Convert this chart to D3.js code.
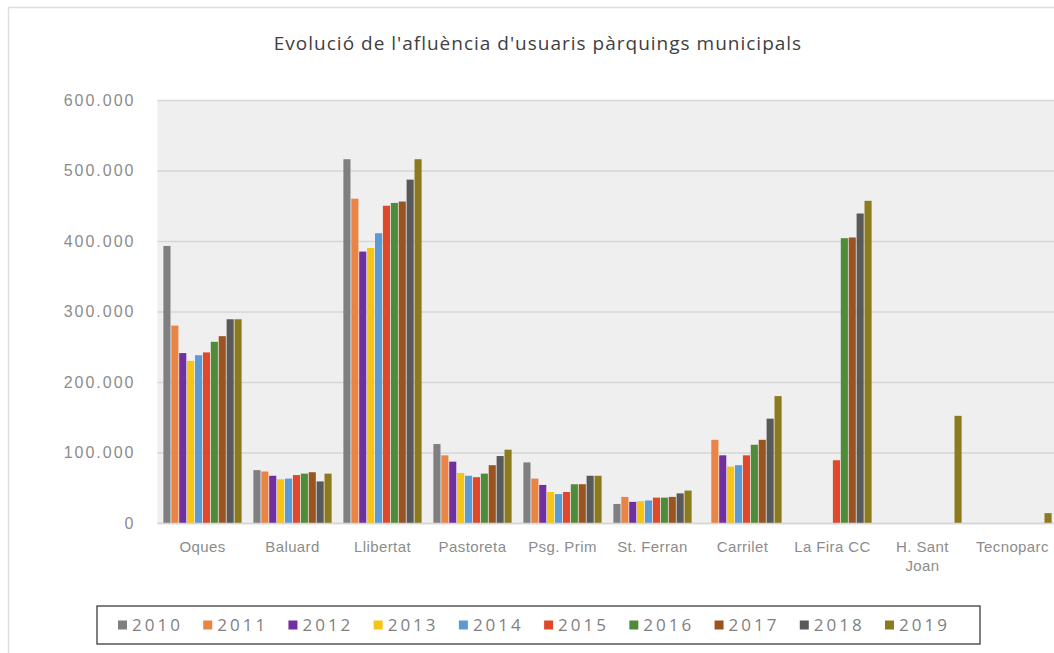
<!DOCTYPE html>
<html>
<head>
<meta charset="utf-8">
<script src="https://cdn.jsdelivr.net/npm/d3@7"></script>
<style>
  body { margin: 0; background: #fff; }
  svg { display: block; font-family: "Open Sans", sans-serif; }
  .tick text { fill: #8c8c8c; font-size: 16px; letter-spacing: 2px; }
  .x.axis .tick text { font-size: 15px; letter-spacing: 0.4px; }
</style>
</head>
<body>
<div id="chart"></div>
<script>

var categories = ["Oques", "Baluard", "Llibertat", "Pastoreta", "Psg. Prim", "St. Ferran", "Carrilet", "La Fira CC", "H. Sant Joan", "Tecnoparc"];
var years = ["2010", "2011", "2012", "2013", "2014", "2015", "2016", "2017", "2018", "2019"];

var v2010 = [393000, 75000, 516000, 112000, 86000, 27000, 0, 0, 0, 0];
var v2011 = [280000, 73000, 460000, 96000, 63000, 37000, 118000, 0, 0, 0];
var v2012 = [241000, 67000, 385000, 87000, 54000, 30000, 96000, 0, 0, 0];
var v2013 = [230000, 62000, 390000, 71000, 44000, 31000, 80000, 0, 0, 0];
var v2014 = [238000, 63000, 411000, 67000, 41000, 32000, 82000, 0, 0, 0];
var v2015 = [242000, 68000, 450000, 65000, 44000, 36000, 96000, 89000, 0, 0];
var v2016 = [257000, 70000, 454000, 70000, 55000, 36000, 111000, 404000, 0, 0];
var v2017 = [265000, 72000, 456000, 82000, 55000, 37000, 118000, 405000, 0, 0];
var v2018 = [289000, 59000, 487000, 95000, 67000, 42000, 148000, 439000, 0, 0];
var v2019 = [289000, 70000, 516000, 104000, 67000, 46000, 180000, 457000, 152000, 14000];

var yTicks = [0, 100000, 200000, 300000, 400000, 500000, 600000];

var colors = ["#7f7f7f", "#ea8445", "#7030a0", "#f6c416", "#5b9bd5", "#e0482c", "#4f8c3a", "#9a5420", "#595959", "#8c7a1e"];

var series = [v2010, v2011, v2012, v2013, v2014, v2015, v2016, v2017, v2018, v2019];

var width = 1054;
var height = 653;
var margin = {top: 100, right: -3.5, bottom: 130, left: 157.5};

var svg = d3.select("#chart")
      .append("svg")
        .attr("width", width)
        .attr("height", height);

// chart frame
svg.append("rect")
    .attr("x", 8.5)
    .attr("y", 7.5)
    .attr("width", width + 20)
    .attr("height", height + 20)
    .attr("fill", "#fff")
    .attr("stroke", "#dedede")
    .attr("stroke-width", 1.5);

var innerW = width - margin.left - margin.right;
var innerH = height - margin.top - margin.bottom;

var g = svg.append("g").attr("transform", "translate(" + margin.left + "," + margin.top + ")");

var x0 = d3.scaleBand()
    .domain(categories)
    .range([0, innerW])
    .paddingInner(0.122)
    .paddingOuter(0.061);

var x1 = d3.scaleBand()
    .domain(years)
    .range([0, x0.bandwidth()]);

var y = d3.scaleLinear()
    .domain([0, 600000])
    .range([innerH, 0]);

var loc = d3.formatLocale({decimal: ",", thousands: ".", grouping: [3], currency: ["", "€"]});
var fmt = loc.format(",");

// plot background
g.append("rect")
    .attr("width", innerW)
    .attr("height", innerH)
    .attr("fill", "#efefef");

// gridlines
g.append("g")
    .attr("class", "grid")
    .call(d3.axisLeft(y)
      .tickValues(yTicks)
      .tickSize(-innerW)
      .tickFormat(""))
    .call(function(s) {
      s.select(".domain").remove();
      s.selectAll("line").attr("stroke", "#d6d6d6").attr("stroke-width", 1.5);
    });

// bars
var rows = categories.map(function(c, i) {
  return years.map(function(yr, j) { return {cat: c, year: yr, value: series[j][i], idx: j}; });
});

g.selectAll(".group")
    .data(rows)
  .enter().append("g")
    .attr("class", "group")
    .attr("transform", function(d, i) { return "translate(" + x0(categories[i]) + ",0)"; })
  .selectAll("rect")
    .data(function(d) { return d.filter(function(b) { return b.value > 0; }); })
  .enter().append("rect")
    .attr("x", function(d) { return x1(d.year) + 0.4; })
    .attr("width", x1.bandwidth() - 0.8)
    .attr("y", function(d) { return y(d.value); })
    .attr("height", function(d) { return innerH - y(d.value); })
    .attr("fill", function(d) { return colors[d.idx]; });

// y axis labels
g.append("g")
    .attr("class", "y axis")
    .attr("transform", "translate(-19,0)")
    .call(d3.axisLeft(y)
      .tickValues(yTicks)
      .tickSize(0)
      .tickFormat(fmt))
    .call(function(s) { s.select(".domain").remove(); });

// x axis labels, wrapped like the original
var xAxis = g.append("g")
    .attr("class", "x axis")
    .attr("transform", "translate(0," + innerH + ")")
    .call(d3.axisBottom(x0).tickSize(0).tickPadding(18))
    .call(function(s) {
      s.select(".domain").attr("stroke", "#d6d6d6").attr("stroke-width", 1.5);
      s.selectAll(".tick text").each(wrap);
    });

function wrap() {
  var text = d3.select(this);
  var words = text.text().split(" ");
  var maxW = x0.step() - 2;
  text.text(null);
  var line = [];
  var tspan = text.append("tspan").attr("x", 0).attr("dy", "0.71em");
  words.forEach(function(w) {
    line.push(w);
    tspan.text(line.join(" "));
    if (tspan.node().getComputedTextLength() > maxW && line.length > 1) {
      line.pop();
      tspan.text(line.join(" "));
      line = [w];
      tspan = text.append("tspan").attr("x", 0).attr("dy", "1.3em").text(w);
    }
  });
}

// title
svg.append("text")
    .attr("x", 538)
    .attr("y", 50)
    .attr("text-anchor", "middle")
    .style("font-size", "19px")
    .style("letter-spacing", "1px")
    .style("fill", "#404040")
    .text("Evolució de l'afluència d'usuaris pàrquings municipals");

// legend
var legend = svg.append("g").attr("class", "legend");

legend.append("rect")
    .attr("x", 97)
    .attr("y", 606)
    .attr("width", 883)
    .attr("height", 38)
    .attr("fill", "#fff")
    .attr("stroke", "#555")
    .attr("stroke-width", 1.5);

var lx = d3.scalePoint()
    .domain(years)
    .range([118, 885]);

var item = legend.selectAll(".item")
    .data(years)
  .enter().append("g")
    .attr("class", "item")
    .attr("transform", function(d) { return "translate(" + lx(d) + ",625)"; });

item.append("rect")
    .attr("x", 0)
    .attr("y", -4.5)
    .attr("width", 9)
    .attr("height", 9)
    .attr("fill", function(d, i) { return colors[i]; });

item.append("text")
    .attr("x", 14)
    .attr("dy", "0.36em")
    .style("font-size", "17px")
    .style("letter-spacing", "3px")
    .style("fill", "#7f7f7f")
    .text(function(d) { return d; });

</script>
</body>
</html>
